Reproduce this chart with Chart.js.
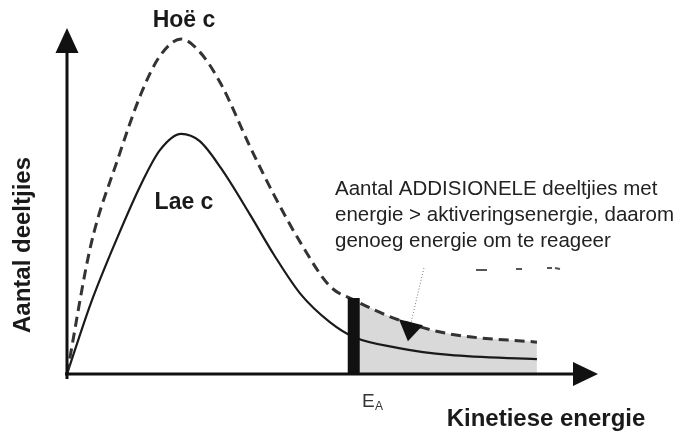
<!DOCTYPE html>
<html>
<head>
<meta charset="utf-8">
<script src="https://cdn.jsdelivr.net/npm/chart.js@4"></script>
<style>
  html, body { margin: 0; padding: 0; background: #fff; }
  #wrap { width: 697px; height: 434px; }
</style>
</head>
<body>
<div id="wrap"><canvas id="energyChart" width="697" height="434"></canvas></div>
<script>
// kinetic energy (arbitrary units) and number of particles for both concentrations
const energy    = [0, 4.5, 9.5, 14, 17.5, 21.5, 25, 29, 34.5, 39, 44, 49.5, 54, 62.5, 72, 88.5];
const highConc  = [0, 37.3, 61.8, 81.2, 91.9, 96.8, 93.1, 83.8, 65.6, 51.7, 37.9, 25.4, 21.4, 15.6, 11.6, 9.2];
const lowConc   = [0, 20.5, 39.5, 55.0, 64.7, 69.4, 67.3, 59.5, 46.0, 34.4, 23.1, 15.0, 10.7, 7.5, 5.5, 4.3];
const activationEnergy = 54;
const activationBarTop = 22;

const toPoints = (xs, ys) => xs.map((x, i) => ({ x, y: ys[i] }));
const highPoints = toPoints(energy, highConc);
const lowPoints = toPoints(energy, lowConc);
const tailPoints = highPoints.filter(p => p.x >= activationEnergy);

const overlay = {
  id: "overlay",
  afterDatasetsDraw(chart) {
    const ctx = chart.ctx;
    const xs = chart.scales.x, ys = chart.scales.y;
    const x0 = xs.getPixelForValue(0), y0 = ys.getPixelForValue(0);
    const xEnd = xs.getPixelForValue(100), yEnd = ys.getPixelForValue(100);

    ctx.save();
    ctx.strokeStyle = "#111";
    ctx.fillStyle = "#111";
    ctx.lineWidth = 3;
    // y axis
    ctx.beginPath();
    ctx.moveTo(x0, y0 + 5);
    ctx.lineTo(x0, yEnd + 22);
    ctx.stroke();
    ctx.beginPath();
    ctx.moveTo(x0, yEnd);
    ctx.lineTo(x0 - 11.5, yEnd + 25);
    ctx.lineTo(x0 + 11.5, yEnd + 25);
    ctx.closePath();
    ctx.fill();
    // x axis
    ctx.beginPath();
    ctx.moveTo(x0 - 2, y0);
    ctx.lineTo(xEnd - 22, y0);
    ctx.stroke();
    ctx.beginPath();
    ctx.moveTo(xEnd, y0);
    ctx.lineTo(xEnd - 25, y0 - 12);
    ctx.lineTo(xEnd - 25, y0 + 12);
    ctx.closePath();
    ctx.fill();

    // pointer towards the extra particles
    const tipX = xs.getPixelForValue(64.2), tipY = ys.getPixelForValue(9.5);
    ctx.strokeStyle = "#777";
    ctx.lineWidth = 1;
    ctx.setLineDash([1, 2]);
    ctx.beginPath();
    ctx.moveTo(tipX + 16, tipY - 73);
    ctx.lineTo(tipX + 3, tipY - 18);
    ctx.stroke();
    ctx.setLineDash([]);
    ctx.fillStyle = "#111";
    ctx.beginPath();
    ctx.moveTo(tipX - 9, tipY - 22);
    ctx.lineTo(tipX + 15, tipY - 16);
    ctx.lineTo(tipX, tipY);
    ctx.closePath();
    ctx.fill();

    // leftover strokes of a clipped text line under the note
    ctx.strokeStyle = "#555";
    ctx.lineWidth = 2;
    [[476, 270, 487, 270], [516, 269, 522, 269], [547, 268, 552, 268], [555, 268, 560, 269]].forEach(([a, b, c, d]) => {
      ctx.beginPath();
      ctx.moveTo(a, b);
      ctx.lineTo(c, d);
      ctx.stroke();
    });

    // labels
    const bold = "bold 23px 'Liberation Sans', Arial, sans-serif";
    ctx.fillStyle = "#1a1a1a";
    ctx.font = bold;
    ctx.textAlign = "center";
    ctx.textBaseline = "alphabetic";
    ctx.fillText("Hoë c", 184, 27);
    ctx.fillText("Lae c", 184, 209);
    ctx.font = "bold 24px 'Liberation Sans', Arial, sans-serif";
    ctx.fillText("Kinetiese energie", 546, 426);

    ctx.save();
    ctx.translate(30, 245);
    ctx.rotate(-Math.PI / 2);
    ctx.fillText("Aantal deeltjies", 0, 0);
    ctx.restore();

    ctx.textAlign = "left";
    ctx.fillStyle = "#222";
    ctx.font = "20.5px 'Liberation Sans', Arial, sans-serif";
    ctx.fillText("Aantal ADDISIONELE deeltjies met", 335, 195);
    ctx.fillText("energie > aktiveringsenergie, daarom", 335, 221);
    ctx.fillText("genoeg energie om te reageer", 335, 247);

    // E_A under the activation bar
    ctx.fillStyle = "#333";
    ctx.font = "19px 'Liberation Sans', Arial, sans-serif";
    ctx.fillText("E", 362, 407);
    ctx.font = "12px 'Liberation Sans', Arial, sans-serif";
    ctx.fillText("A", 375, 410);
    ctx.restore();
  }
};

new Chart(document.getElementById("energyChart"), {
  type: "line",
  data: {
    datasets: [
      {
        label: "Ea",
        data: [{ x: activationEnergy, y: 0 }, { x: activationEnergy, y: activationBarTop }],
        borderColor: "#111",
        borderWidth: 12,
        borderCapStyle: "butt",
        pointRadius: 0,
        order: 0
      },
      {
        label: "Hoë c",
        data: highPoints,
        borderColor: "#333",
        borderWidth: 3,
        borderDash: [10, 6],
        cubicInterpolationMode: "monotone",
        pointRadius: 0,
        order: 1
      },
      {
        label: "Lae c",
        data: lowPoints,
        borderColor: "#1a1a1a",
        borderWidth: 2.2,
        cubicInterpolationMode: "monotone",
        pointRadius: 0,
        order: 1
      },
      {
        label: "tail",
        data: tailPoints,
        borderWidth: 0,
        backgroundColor: "#d9d9d9",
        fill: "origin",
        cubicInterpolationMode: "monotone",
        pointRadius: 0,
        order: 3
      }
    ]
  },
  options: {
    responsive: false,
    animation: false,
    clip: false,
    layout: { padding: { left: 67, right: 99, top: 28, bottom: 60 } },
    plugins: { legend: { display: false }, tooltip: { enabled: false } },
    scales: {
      x: { type: "linear", min: 0, max: 100, display: false },
      y: { min: 0, max: 100, display: false }
    }
  },
  plugins: [overlay]
});
</script>
</body>
</html>
